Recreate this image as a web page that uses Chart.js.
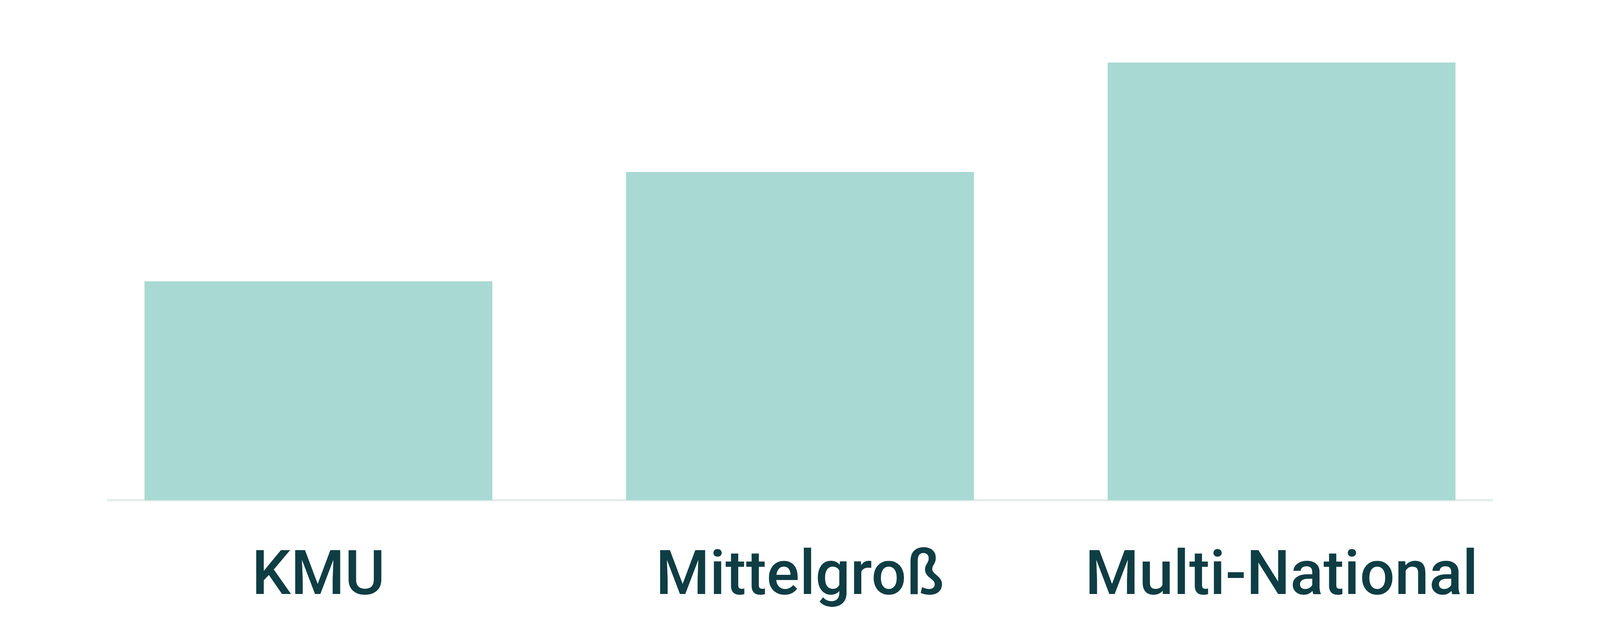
<!DOCTYPE html>
<html>
<head>
<meta charset="utf-8">
<script src="https://cdn.jsdelivr.net/npm/chart.js@4"></script>
<style>
    html, body { margin: 0; padding: 0; background: #ffffff; overflow: hidden; }
    #wrap { position: relative; width: 100vw; height: 100vh; }
</style>
</head>
<body>
<div id="wrap"><canvas id="groessenChart"></canvas></div>
<script>
// Daten
const kategorien = ['KMU', 'Mittelgroß', 'Multi-National'];
const werte = [20, 30, 40];
const yMax = 40;

// Grundlinie unter den Balken (etwas kürzer als die Kategorienbreite)
const grundlinie = {
    id: 'grundlinie',
    beforeDatasetsDraw(chart) {
        const ctx = chart.ctx;
        const y = chart.scales.y.getPixelForValue(0);
        const inset = chart.width * 0.0184;
        const dicke = chart.height * 0.0036;
        ctx.save();
        ctx.fillStyle = '#e4edeb';
        ctx.fillRect(chart.chartArea.left + inset, y - dicke / 2, chart.chartArea.width - 2 * inset, dicke);
        ctx.restore();
    }
};

const ctx = document.getElementById('groessenChart').getContext('2d');

const groessenChart = new Chart(ctx, {
    type: 'bar',
    data: {
        labels: kategorien,
        datasets: [{
            data: werte,
            backgroundColor: '#a8d9d2',
            borderWidth: 0,
            categoryPercentage: 1,
            barPercentage: 0.7222
        }]
    },
    options: {
        responsive: true,
        maintainAspectRatio: false,
        animation: false,
        layout: {
            padding: function(context) {
                const w = context.chart.width;
                const h = context.chart.height;
                return { left: w * 0.0485, right: w * 0.0485, top: h * 0.0971, bottom: -32 };
            }
        },
        plugins: {
            legend: { display: false },
            tooltip: { enabled: false }
        },
        scales: {
            y: {
                display: false,
                min: 0,
                max: yMax
            },
            x: {
                grid: { display: false, drawTicks: false },
                border: { display: false },
                ticks: {
                    color: '#0f3d44',
                    padding: 121,
                    font: { family: 'Roboto', size: 158, weight: '500', lineHeight: 1 }
                }
            }
        }
    },
    plugins: [grundlinie]
});
</script>
</body>
</html>
